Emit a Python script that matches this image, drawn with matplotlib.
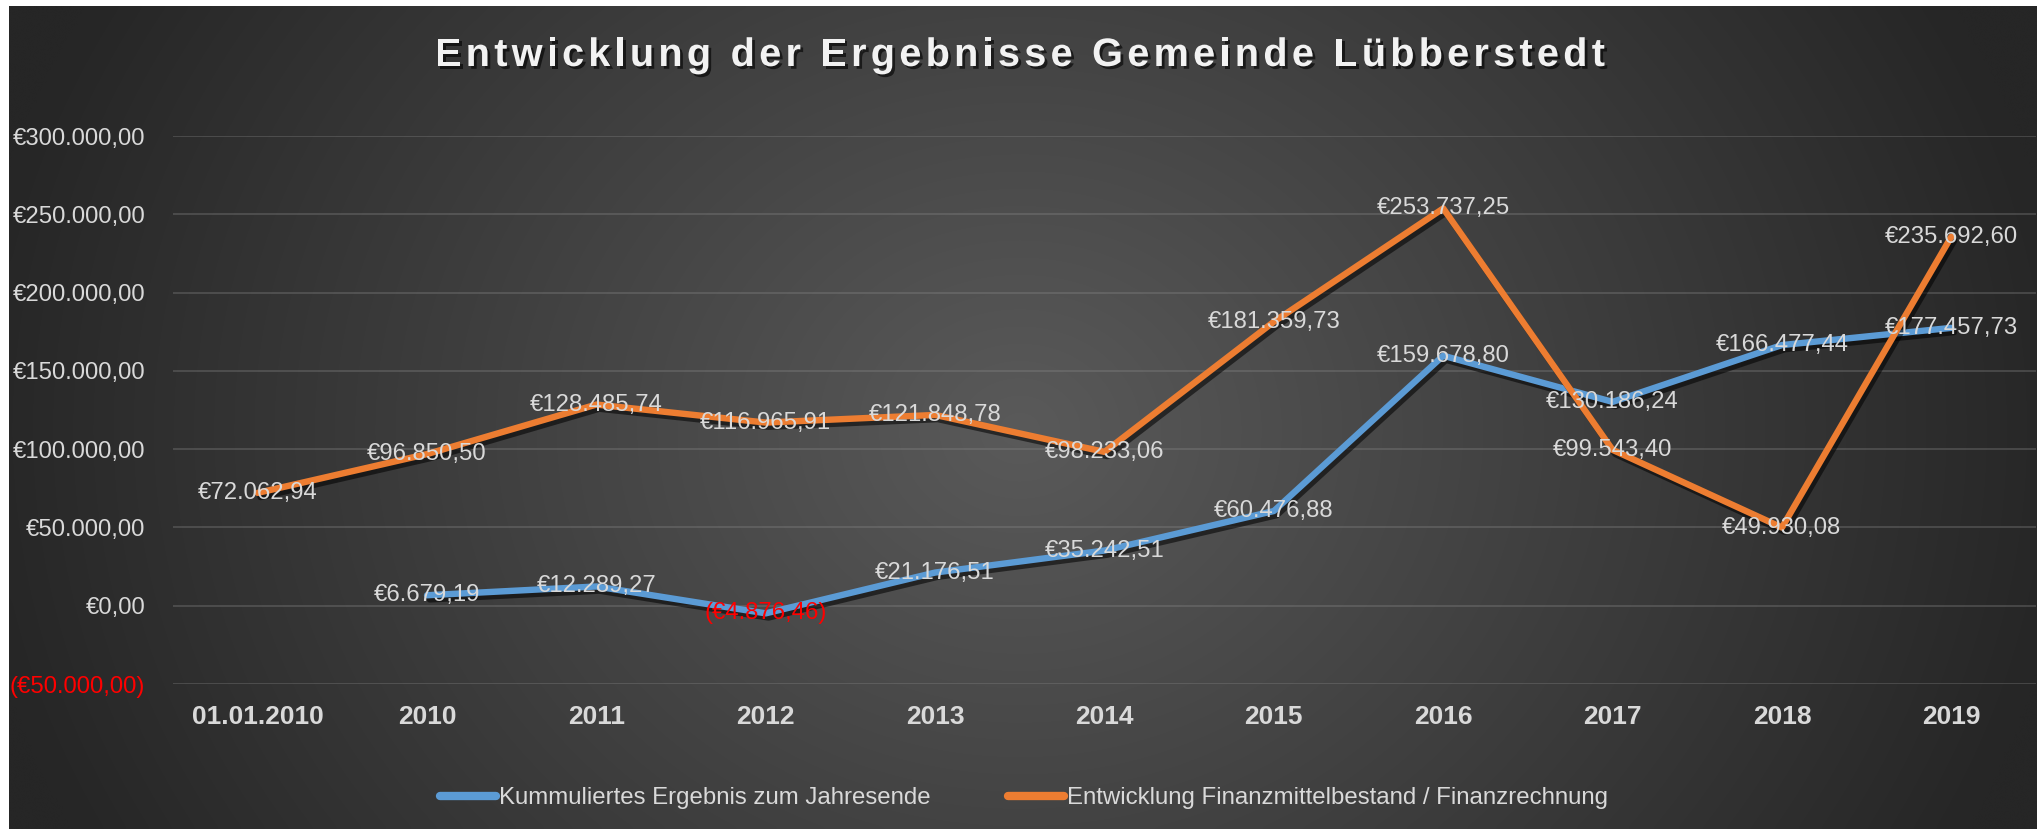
import numpy as np
import matplotlib
matplotlib.use("Agg")
import matplotlib.pyplot as plt
import matplotlib.patheffects as pe
from matplotlib.font_manager import FontProperties

plt.rcParams['font.family'] = ['Liberation Sans', 'DejaVu Sans']

categories = ["01.01.2010", "2010", "2011", "2012", "2013", "2014",
              "2015", "2016", "2017", "2018", "2019"]
kum_ergebnis = [np.nan, 6679.19, 12289.27, -4876.46, 21176.51, 35242.51,
                60476.88, 159678.80, 130186.24, 166477.44, 177457.73]
finanzmittel = [72062.94, 96850.50, 128485.74, 116965.91, 121848.78, 98233.06,
                181359.73, 253737.25, 99543.40, 49930.08, 235692.60]
y_ticks = [-50000, 0, 50000, 100000, 150000, 200000, 250000, 300000]
series_names = ["Kummuliertes Ergebnis zum Jahresende",
                "Entwicklung Finanzmittelbestand / Finanzrechnung"]
title = "Entwicklung der Ergebnisse Gemeinde Lübberstedt"

BLUE = "#5B9BD5"
ORANGE = "#ED7D31"
TXT = "#d9d9d9"


def euro(v):
    s = f"{abs(v):,.2f}".replace(",", "X").replace(".", ",").replace("X", ".")
    return f"(€{s})" if v < 0 else f"€{s}"


W, H = 2037, 831
fig = plt.figure(figsize=(W / 100, H / 100), dpi=100, facecolor="white")

# background with radial gradient
bg = fig.add_axes([0, 0, 1, 1], zorder=-5)
bg.set_xlim(0, W)
bg.set_ylim(H, 0)
bg.axis("off")
gx, gy = np.meshgrid(np.linspace(9, W, 400), np.linspace(6, 829, 200))
r = np.sqrt(((gx - 1020) / 1050) ** 2 + ((gy - 430) / 900) ** 2)
r = np.clip(r, 0, 1)
c0, c1 = 0x5a / 255, 0x26 / 255
val = c0 + (c1 - c0) * r
img = np.dstack([val, val, val])
bg.imshow(img, extent=(9, W, 829, 6), aspect="auto", interpolation="bicubic")

ax = fig.add_axes([173 / W, 1 - 684 / H, (2036 - 173) / W, (684 - 136) / H])
ax.set_facecolor("none")
x = np.arange(len(categories))

ax.set_xlim(-0.5, len(categories) - 0.5)
ax.set_ylim(-50000, 300000)
for s in ax.spines.values():
    s.set_visible(False)
ax.set_yticks(y_ticks, [euro(v) for v in y_ticks])
ax.set_xticks(x, categories)
ax.tick_params(axis="both", length=0)
ax.tick_params(axis="y", labelsize=17.2, labelcolor=TXT, pad=20)
ax.tick_params(axis="x", labelsize=19, labelcolor=TXT, pad=15)
for lbl in ax.get_xticklabels():
    lbl.set_fontweight("bold")
for v, lbl in zip(y_ticks, ax.get_yticklabels()):
    if v < 0:
        lbl.set_color("#ff0000")
ax.grid(axis="y", color="#8a8a8a", alpha=0.35, lw=1.3)
ax.set_axisbelow(True)

shadow = [pe.SimpleLineShadow(offset=(2, -3), shadow_color="black", alpha=0.55),
          pe.Normal()]
ax.plot(x, kum_ergebnis, color=BLUE, lw=4.6, solid_joinstyle="round",
        solid_capstyle="round", path_effects=shadow, zorder=3,
        label=series_names[0])
ax.plot(x, finanzmittel, color=ORANGE, lw=4.6, solid_joinstyle="round",
        solid_capstyle="round", path_effects=shadow, zorder=3,
        label=series_names[1])

for xi, v in zip(x, kum_ergebnis):
    if np.isnan(v):
        continue
    ax.text(xi, v, euro(v), ha="center", va="center", fontsize=17.2,
            color="#ff0000" if v < 0 else TXT, zorder=5)
for xi, v in zip(x, finanzmittel):
    ax.text(xi, v, euro(v), ha="center", va="center", fontsize=17.2,
            color="#ff0000" if v < 0 else TXT, zorder=5)

leg = fig.legend(loc="center", bbox_to_anchor=(1024 / W, 1 - 798 / H), ncol=2,
                 frameon=False, fontsize=17.3, handlelength=2.35,
                 handletextpad=0.12, columnspacing=3.2)
for t in leg.get_texts():
    t.set_color(TXT)
for h in leg.legend_handles:
    h.set_linewidth(6)
    h.set_path_effects([])

# title with letter spacing
fp = FontProperties(family="Liberation Sans", weight="bold", size=28.6)
renderer = fig.canvas.get_renderer()
widths = [renderer.get_text_width_height_descent(ch, fp, ismath=False)[0]
          for ch in title]
x_start, x_end = 435, 1605
spacing = (x_end - x_start - sum(widths)) / (len(title) - 1)
tx = x_start
title_fx = [pe.withSimplePatchShadow(offset=(2, -2), shadow_rgbFace="black",
                                     alpha=0.6)]
for ch, w in zip(title, widths):
    fig.text(tx / W, 1 - 66 / H, ch, fontproperties=fp, color="#f2f2f2",
             ha="left", va="baseline", path_effects=title_fx)
    tx += w + spacing

fig.savefig("out.png", dpi=100, facecolor="white")
